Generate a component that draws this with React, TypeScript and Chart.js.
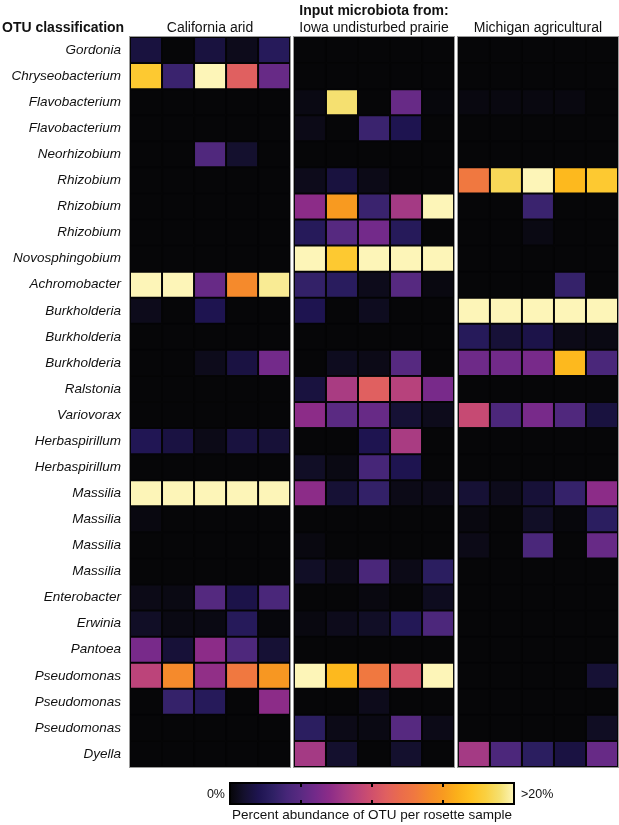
import React, { useEffect, useRef } from "react";
import { Chart, registerables } from "chart.js";

Chart.register(...registerables);

const otuLabels = [
  "Gordonia", "Chryseobacterium", "Flavobacterium", "Flavobacterium", "Neorhizobium",
  "Rhizobium", "Rhizobium", "Rhizobium", "Novosphingobium", "Achromobacter",
  "Burkholderia", "Burkholderia", "Burkholderia", "Ralstonia", "Variovorax",
  "Herbaspirillum", "Herbaspirillum", "Massilia", "Massilia", "Massilia",
  "Massilia", "Enterobacter", "Erwinia", "Pantoea", "Pseudomonas",
  "Pseudomonas", "Pseudomonas", "Dyella",
];

const panelNames = ["California arid", "Iowa undisturbed prairie", "Michigan agricultural"];

// percent abundance, 5 rosette samples per input microbiota
const californiaArid = [
  [1.5, 0, 1.5, 0.5, 2.5],
  [17.5, 3.5, 20, 11, 5.5],
  [0, 0, 0, 0, 0],
  [0, 0, 0, 0, 0],
  [0, 0, 4.5, 1, 0],
  [0, 0, 0, 0, 0],
  [0, 0, 0, 0, 0],
  [0, 0, 0, 0, 0],
  [0, 0, 0, 0, 0],
  [20, 20, 5.5, 14, 19.5],
  [0.5, 0, 2, 0, 0],
  [0, 0, 0, 0, 0],
  [0, 0, 0.5, 1.6, 6],
  [0, 0, 0, 0, 0],
  [0, 0, 0, 0, 0],
  [2.2, 1.6, 0.4, 1.5, 1.3],
  [0, 0, 0, 0, 0],
  [20, 20, 20, 20, 20],
  [0.2, 0, 0, 0, 0],
  [0, 0, 0, 0, 0],
  [0, 0, 0, 0, 0],
  [0.4, 0.3, 4.7, 1.8, 4.2],
  [0.8, 0.3, 0.3, 2.5, 0.1],
  [6.2, 1.3, 7, 4.4, 1.2],
  [9, 14, 7.2, 13, 14.8],
  [0, 3.3, 2.5, 0, 7],
  [0, 0, 0, 0, 0],
  [0, 0, 0, 0, 0],
];

const iowaPrairie = [
  [0, 0, 0, 0, 0],
  [0, 0, 0, 0, 0],
  [0.3, 19, 0, 5.5, 0.1],
  [0.4, 0, 3.5, 2, 0],
  [0, 0, 0, 0, 0],
  [0.5, 1.5, 0.4, 0, 0],
  [7, 15, 3.5, 8, 20],
  [2.5, 4.8, 6, 2.5, 0],
  [20, 17.5, 20, 20, 20],
  [3.2, 2.7, 0.5, 4.8, 0.2],
  [2, 0, 0.6, 0, 0],
  [0, 0, 0, 0, 0],
  [0, 0.6, 0.4, 4.8, 0],
  [1.5, 8.2, 11, 8.8, 6.2],
  [7, 5, 5.5, 1.2, 0.5],
  [0, 0, 2, 8.2, 0],
  [0.8, 0.3, 4, 2, 0],
  [7, 1.2, 3.2, 0.4, 0.4],
  [0, 0, 0, 0, 0],
  [0.2, 0, 0, 0, 0],
  [0.8, 0.4, 4.2, 0.4, 2.8],
  [0, 0, 0.2, 0, 0.6],
  [0.2, 0.5, 0.8, 2.3, 4.3],
  [0, 0, 0, 0, 0],
  [20, 16.5, 13, 10.2, 20],
  [0, 0, 0.5, 0, 0],
  [2.8, 0.4, 0.3, 4.8, 0.4],
  [8, 1, 0, 1, 0],
];

const michiganAgricultural = [
  [0, 0, 0, 0, 0],
  [0, 0, 0, 0, 0],
  [0.2, 0.2, 0.2, 0.2, 0],
  [0, 0, 0, 0, 0],
  [0, 0, 0, 0, 0],
  [13, 18.5, 20, 16.5, 17.5],
  [0, 0, 3.5, 0, 0],
  [0, 0, 0.3, 0, 0],
  [0, 0, 0, 0, 0],
  [0, 0, 0, 3.3, 0],
  [20, 20, 20, 20, 20],
  [2.5, 1.3, 1.8, 0.4, 0.3],
  [5.8, 5.9, 6.2, 16.5, 4.2],
  [0, 0, 0, 0, 0],
  [9.5, 4.3, 6.2, 4.5, 1.5],
  [0, 0, 0, 0, 0],
  [0, 0, 0, 0, 0],
  [1.2, 0.5, 1.3, 3.3, 7],
  [0.2, 0, 0.8, 0.1, 2.8],
  [0.4, 0, 4.2, 0, 5.5],
  [0, 0, 0, 0, 0],
  [0, 0, 0, 0, 0],
  [0, 0, 0, 0, 0],
  [0, 0, 0, 0, 0],
  [0, 0, 0, 0, 1.2],
  [0, 0, 0, 0, 0],
  [0, 0, 0, 0, 0.7],
  [8, 4.3, 2.8, 1.6, 5.5],
];

const colorbarMin = 0;
const colorbarMax = 20;
const colorbarLabels = ["0%", ">20%"];
const colorbarTickValues = [5, 10, 15];
const colorbarTitle = "Percent abundance of OTU per rosette sample";

const panelData = [californiaArid, iowaPrairie, michiganAgricultural];
const SAMPLES = 5;
const GAP = 0.12;

const FONT = '"Liberation Sans", Arial, Helvetica, sans-serif';

// inferno-like colour scale as rendered in the figure
const STOPS: [number, string][] = [
  [0, "#060608"],
  [1, "#14102e"],
  [2, "#1e1450"],
  [3, "#2e2064"],
  [4, "#462678"],
  [5, "#5a2a82"],
  [6, "#732a8a"],
  [7, "#8c2c88"],
  [8, "#a43a84"],
  [9, "#bc447a"],
  [10, "#d0506c"],
  [11, "#e06060"],
  [12, "#ea6c4c"],
  [13, "#f07840"],
  [14, "#f58a2c"],
  [15, "#f89a20"],
  [16, "#fbb01a"],
  [17, "#ffc222"],
  [18, "#fad040"],
  [19, "#f5e070"],
  [20, "#fdf5b8"],
];

function hexRgb(h: string): number[] {
  return [1, 3, 5].map((i) => parseInt(h.slice(i, i + 2), 16));
}

function colorFor(v: number): string {
  const x = Math.max(colorbarMin, Math.min(colorbarMax, v));
  for (let i = 0; i < STOPS.length - 1; i++) {
    const [a, ca] = STOPS[i];
    const [b, cb] = STOPS[i + 1];
    if (x <= b) {
      const t = (x - a) / (b - a);
      const A = hexRgb(ca);
      const B = hexRgb(cb);
      const c = A.map((u, k) => Math.round(u + (B[k] - u) * t));
      return `rgb(${c[0]},${c[1]},${c[2]})`;
    }
  }
  return STOPS[STOPS.length - 1][1];
}

const panelStart = (p: number) => p * (SAMPLES + GAP);

function panelRect(chart: any, p: number) {
  const xs = chart.scales.x;
  const l = Math.round(xs.getPixelForValue(panelStart(p)));
  const r = Math.round(xs.getPixelForValue(panelStart(p) + SAMPLES));
  return { l, r };
}

const decorPlugin = {
  id: "decor",
  beforeDatasetsDraw(chart: any) {
    const { ctx, chartArea } = chart;
    ctx.save();
    ctx.fillStyle = "#060608";
    panelData.forEach((_, p) => {
      const { l, r } = panelRect(chart, p);
      ctx.fillRect(l, chartArea.top, r - l, chartArea.bottom - chartArea.top);
    });
    ctx.restore();
  },
  afterDatasetsDraw(chart: any) {
    const { ctx, chartArea } = chart;
    ctx.save();
    ctx.strokeStyle = "#9a9a9a";
    ctx.lineWidth = 1;
    panelData.forEach((_, p) => {
      const { l, r } = panelRect(chart, p);
      ctx.strokeRect(l - 0.5, Math.round(chartArea.top) - 0.5, r - l + 1, Math.round(chartArea.bottom - chartArea.top) + 1);
    });
    ctx.restore();
  },
  afterDraw(chart: any) {
    const { ctx } = chart;
    const x0 = 230, x1 = 514, y0 = 783, y1 = 804;
    ctx.save();
    const g = ctx.createLinearGradient(x0, 0, x1, 0);
    STOPS.forEach(([v]) => {
      g.addColorStop((v - colorbarMin) / (colorbarMax - colorbarMin), colorFor(v));
    });
    ctx.fillStyle = g;
    ctx.fillRect(x0, y0, x1 - x0, y1 - y0);
    ctx.strokeStyle = "#000";
    ctx.lineWidth = 2;
    ctx.strokeRect(x0, y0, x1 - x0, y1 - y0);
    colorbarTickValues.forEach((v) => {
      const x = x0 + ((v - colorbarMin) / (colorbarMax - colorbarMin)) * (x1 - x0);
      ctx.beginPath();
      ctx.moveTo(x, y0);
      ctx.lineTo(x, y0 + 4);
      ctx.moveTo(x, y1);
      ctx.lineTo(x, y1 - 4);
      ctx.stroke();
    });
    ctx.restore();
  },
};

export default function App() {
  const ref = useRef<HTMLCanvasElement | null>(null);

  useEffect(() => {
    if (!ref.current) return;
    const datasets: any[] = [];
    panelData.forEach((panel, p) => {
      for (let c = 0; c < SAMPLES; c++) {
        const start = panelStart(p) + c;
        datasets.push({
          label: `${panelNames[p]} ${c + 1}`,
          data: panel.map(() => [start, start + 1]),
          backgroundColor: panel.map((row) => colorFor(row[c])),
          borderColor: "#050506",
          borderWidth: 1,
          borderSkipped: false,
          inflateAmount: 0,
          barPercentage: 1,
          categoryPercentage: 1,
          grouped: false,
        });
      }
    });
    const chart = new Chart(ref.current, {
      type: "bar",
      data: { labels: otuLabels, datasets },
      options: {
        indexAxis: "y",
        responsive: false,
        animation: false,
        devicePixelRatio: 1,
        layout: { padding: { top: 37, bottom: 58, left: 0, right: 1 } },
        plugins: { legend: { display: false }, tooltip: { enabled: false } },
        scales: {
          x: { type: "linear", min: 0, max: panelStart(2) + SAMPLES, display: false },
          y: {
            type: "category",
            grid: { display: false, drawTicks: false },
            border: { display: false },
            ticks: {
              autoSkip: false,
              padding: 9,
              color: "#111",
              font: { family: FONT, size: 13.5, style: "italic" },
            },
            afterFit: (s: any) => {
              s.width = 130;
            },
          },
        },
      },
      plugins: [decorPlugin],
    });
    return () => chart.destroy();
  }, []);

  const unit = 488 / (panelStart(2) + SAMPLES);
  const centerOf = (p: number) => 130 + (panelStart(p) + SAMPLES / 2) * unit;
  const text: React.CSSProperties = {
    position: "absolute",
    fontFamily: FONT,
    color: "#111",
    whiteSpace: "nowrap",
    lineHeight: "16px",
  };

  return (
    <div style={{ position: "fixed", left: 0, top: 0, width: 619, height: 825, background: "#fff" }}>
      <canvas ref={ref} width={619} height={825} style={{ position: "absolute", left: 0, top: 0 }} />
      <div style={{ ...text, left: centerOf(1) - 120, width: 240, top: 2, textAlign: "center", fontSize: 14, fontWeight: "bold" }}>
        Input microbiota from:
      </div>
      <div style={{ ...text, left: 2, top: 19, fontSize: 14, fontWeight: "bold" }}>OTU classification</div>
      {panelNames.map((n, p) => (
        <div key={n} style={{ ...text, left: centerOf(p) - 100, width: 200, top: 19, textAlign: "center", fontSize: 14 }}>
          {n}
        </div>
      ))}
      <div style={{ ...text, right: 619 - 225, top: 786, fontSize: 12.5, textAlign: "right" }}>{colorbarLabels[0]}</div>
      <div style={{ ...text, left: 521, top: 786, fontSize: 12.5 }}>{colorbarLabels[1]}</div>
      <div style={{ ...text, left: 372 - 200, width: 400, top: 807, fontSize: 13.5, textAlign: "center" }}>
        {colorbarTitle}
      </div>
    </div>
  );
}
